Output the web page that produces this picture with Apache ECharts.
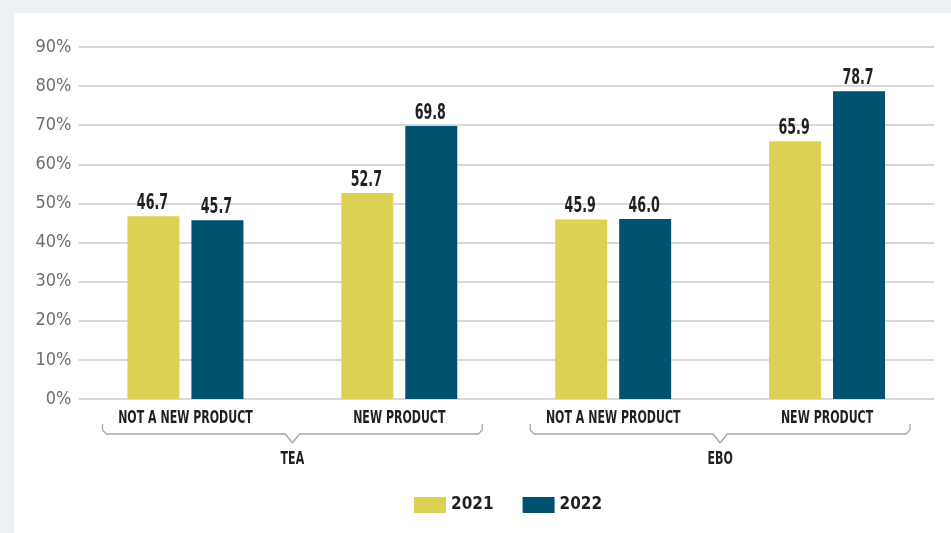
<!DOCTYPE html>
<html><head><meta charset="utf-8">
<script src="https://cdn.jsdelivr.net/npm/echarts@6/dist/echarts.min.js"></script>
<style>html,body{margin:0;padding:0;background:#eef1f4}#c{width:951px;height:533px}</style>
</head><body><div id="c"></div>
<script>
const categories = ['NOT A NEW PRODUCT', 'NEW PRODUCT', 'NOT A NEW PRODUCT', 'NEW PRODUCT'];
const groups = ['TEA', 'EBO'];
const values2021 = [46.7, 52.7, 45.9, 65.9];
const values2022 = [45.7, 69.8, 46.0, 78.7];
const seriesNames = ['2021', '2022'];
const yTicks = [0, 10, 20, 30, 40, 50, 60, 70, 80, 90];

const FONT = '"DejaVu Sans Condensed","Liberation Sans Narrow",sans-serif';
const DARK = '#231f20';
const BAR_W = 52, BAR_GAP = '23%';
const chart = echarts.init(document.getElementById('c'));

// label points: [categoryIndex, value, seriesIndex]
const labelData = [];
values2021.forEach((v, i) => labelData.push([i, v, 0]));
values2022.forEach((v, i) => labelData.push([i, v, 1]));

const panel = {type: 'rect', z: -10, silent: true, shape: {x: 14, y: 13, width: 937, height: 520}, style: {fill: '#ffffff'}};

chart.setOption({
  backgroundColor: '#eef1f4',
  animation: false,
  graphic: [panel],
  grid: {left: 78.5, right: 17, top: 47, bottom: 134},
  legend: {top: 495, left: 414, padding: 0, itemWidth: 32, itemHeight: 16, itemGap: 29,
    textStyle: {fontFamily: FONT, fontWeight: 'bold', fontSize: 17, lineHeight: 20, color: DARK},
    data: seriesNames.map(n => ({name: n, icon: 'rect'}))},
  xAxis: {type: 'category', data: categories,
    axisLine: {show: false}, axisTick: {show: false}, axisLabel: {show: false}},
  yAxis: {type: 'value', min: yTicks[0], max: yTicks[yTicks.length - 1], interval: 10,
    axisLine: {show: false}, axisTick: {show: false},
    splitLine: {lineStyle: {color: '#cccccc', width: 1.5}},
    axisLabel: {margin: 7, color: '#6d6e71', fontFamily: FONT, fontSize: 18, formatter: '{value}%'}},
  series: [
    {name: seriesNames[0], type: 'bar', data: values2021, barWidth: BAR_W, barGap: BAR_GAP, itemStyle: {color: '#dcd155'}},
    {name: seriesNames[1], type: 'bar', data: values2022, barWidth: BAR_W, itemStyle: {color: '#005271'}},
    {type: 'custom', silent: true, z: 5, data: labelData, encode: {x: 0, y: 1},
      renderItem: function (params, api) {
        const layout = api.barLayout({barWidth: BAR_W, barGap: BAR_GAP, count: 2});
        const s = api.value(2);
        const p = api.coord([api.value(0), api.value(1)]);
        return {type: 'text', x: p[0] + layout[s].offsetCenter - 1, y: p[1] - 13, scaleX: 0.64,
          style: {text: api.value(1).toFixed(1), fill: DARK, font: 'bold 22px ' + FONT, textAlign: 'center', textVerticalAlign: 'middle'}};
      }}
  ]
});

function drawAnnotations() {
  const g = [panel];
  const y0 = chart.convertToPixel({yAxisIndex: 0}, 0);
  const step = chart.convertToPixel({xAxisIndex: 0}, 1) - chart.convertToPixel({xAxisIndex: 0}, 0);
  const reach = step / 2 - 24;
  categories.forEach((name, i) => {
    const x = chart.convertToPixel({xAxisIndex: 0}, i);
    g.push({type: 'text', silent: true, x: x, y: y0 + 19, scaleX: 0.68,
      style: {text: name, fill: DARK, font: 'bold 18px ' + FONT, textAlign: 'center', textVerticalAlign: 'middle'}});
  });
  groups.forEach((name, gi) => {
    const a = chart.convertToPixel({xAxisIndex: 0}, gi * 2);
    const b = chart.convertToPixel({xAxisIndex: 0}, gi * 2 + 1);
    const xl = a - reach, xr = b + reach, xm = (a + b) / 2;
    const top = y0 + 25, line = y0 + 35, tip = y0 + 44, r = 4;
    const st = {stroke: '#a6a6a6', lineWidth: 1.3, fill: null};
    g.push({type: 'polyline', silent: true, shape: {points: [[xl, top], [xl, line - r], [xl + r, line], [xm - 7, line], [xm, tip]]}, style: st});
    g.push({type: 'polyline', silent: true, shape: {points: [[xr, top], [xr, line - r], [xr - r, line], [xm + 7, line], [xm, tip]]}, style: st});
    g.push({type: 'text', silent: true, x: xm, y: y0 + 60, scaleX: 0.68,
      style: {text: name, fill: DARK, font: 'bold 18px ' + FONT, textAlign: 'center', textVerticalAlign: 'middle'}});
  });
  chart.setOption({graphic: g}, {replaceMerge: ['graphic']});
}
drawAnnotations();
</script></body></html>
